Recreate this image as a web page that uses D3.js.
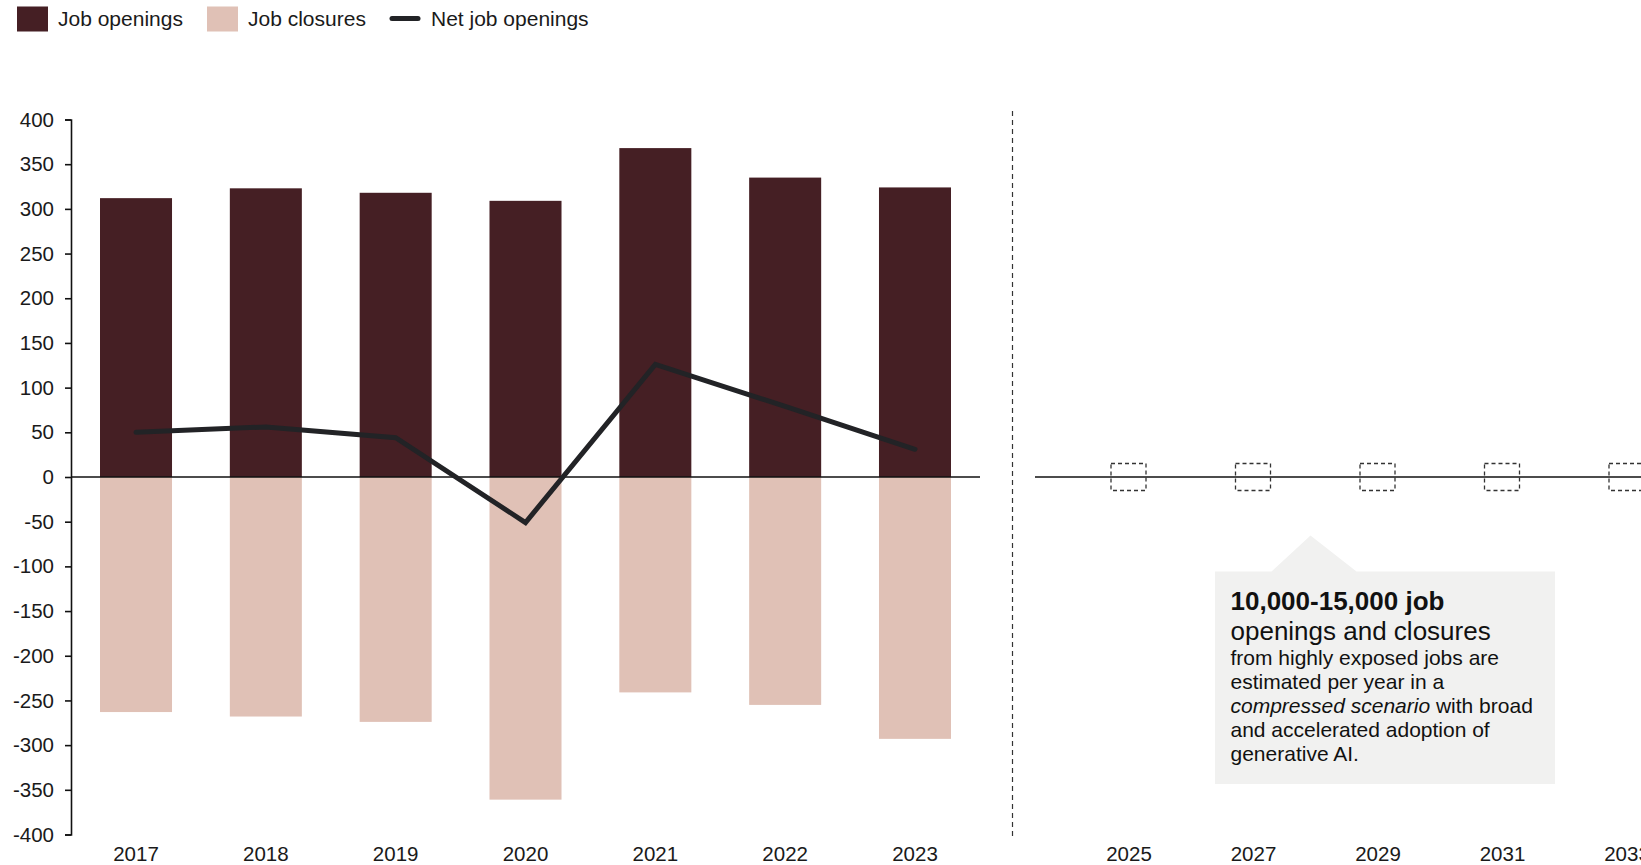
<!DOCTYPE html>
<html>
<head>
<meta charset="utf-8">
<script src="https://cdn.jsdelivr.net/npm/d3@7"></script>
<style>
  html, body { margin: 0; padding: 0; background: #fff; }
  svg { display: block; font-family: "Liberation Sans", Arial, sans-serif; }
</style>
</head>
<body>
<svg id="chart" width="1641" height="865"></svg>
<script>
// Historical years (thousands of jobs)
const years = ["2017", "2018", "2019", "2020", "2021", "2022", "2023"];
const openings = [312, 323, 318, 309, 368, 335, 324];
const closures = [-263, -268, -274, -361, -241, -255, -293];
const netOpenings = [50, 56, 44, -51, 126, 79, 31];
// Projection years
const futureYears = ["2025", "2027", "2029", "2031", "2033"];
const yTicks = [400, 350, 300, 250, 200, 150, 100, 50, 0, -50, -100, -150, -200, -250, -300, -350, -400];

const legendItems = [
  { label: "Job openings", type: "rect", color: "#451f24" },
  { label: "Job closures", type: "rect", color: "#e0c1b6" },
  { label: "Net job openings", type: "line", color: "#222326" }
];

const noteLines = [
  { parts: [{ t: "10,000-15,000 job", w: "bold" }], size: 26 },
  { parts: [{ t: "openings and closures" }], size: 26 },
  { parts: [{ t: "from highly exposed jobs are" }], size: 21 },
  { parts: [{ t: "estimated per year in a" }], size: 21 },
  { parts: [{ t: "compressed scenario", s: "italic" }, { t: " with broad" }], size: 21 },
  { parts: [{ t: "and accelerated adoption of" }], size: 21 },
  { parts: [{ t: "generative AI." }], size: 21 }
];

const svg = d3.select("#chart");
const textColor = "#1a1a1a";

// Scales
const y = d3.scaleLinear().domain([-400, 400]).range([834.5, 119.5]);
const x = d3.scaleBand().domain(years).range([71, 980])
  .paddingInner(0.4453).paddingOuter(0.2234);
const xf = d3.scalePoint().domain(futureYears).range([1128.5, 1626.5]);

// Legend
const legendX = [17, 207, 390];
const legend = svg.append("g");
legendItems.forEach((d, i) => {
  const g = legend.append("g").attr("transform", `translate(${legendX[i]},0)`);
  if (d.type === "rect") {
    g.append("rect").attr("x", 0).attr("y", 6.5).attr("width", 31).attr("height", 25).attr("fill", d.color);
  } else {
    g.append("line").attr("x1", 2).attr("x2", 28).attr("y1", 18.5).attr("y2", 18.5)
      .attr("stroke", d.color).attr("stroke-width", 5).attr("stroke-linecap", "round");
  }
  g.append("text").attr("x", 41).attr("y", 26).attr("font-size", 21).attr("fill", textColor).text(d.label);
});

// Bars: openings (positive) and closures (negative)
svg.append("g").selectAll("rect").data(years).join("rect")
  .attr("x", d => x(d))
  .attr("width", x.bandwidth())
  .attr("y", (d, i) => y(openings[i]))
  .attr("height", (d, i) => y(0) - y(openings[i]))
  .attr("fill", "#451f24");

svg.append("g").selectAll("rect").data(years).join("rect")
  .attr("x", d => x(d))
  .attr("width", x.bandwidth())
  .attr("y", y(0))
  .attr("height", (d, i) => y(closures[i]) - y(0))
  .attr("fill", "#e0c1b6");

// Y axis
const yAxis = d3.axisLeft(y).tickValues(yTicks).tickSize(6).tickPadding(11).tickFormat(d3.format("d"));
const ya = svg.append("g").attr("transform", "translate(71,0)").call(yAxis);
ya.select(".domain").attr("stroke", "#111").attr("stroke-width", 1.6);
ya.selectAll(".tick line").attr("stroke", "#111").attr("stroke-width", 1.6);
ya.selectAll(".tick text").attr("font-size", 20.5).attr("fill", textColor)
  .attr("font-family", "Liberation Sans, Arial, sans-serif")
  .text(d => d < 0 ? "-" + Math.abs(d) : d);

// Zero line (left panel)
svg.append("line").attr("x1", 71).attr("x2", 980).attr("y1", y(0)).attr("y2", y(0))
  .attr("stroke", "#111").attr("stroke-width", 1.6);

// Net line
const line = d3.line().x((d, i) => x(years[i]) + x.bandwidth() / 2).y(d => y(d));
svg.append("path").datum(netOpenings).attr("d", line)
  .attr("fill", "none").attr("stroke", "#222326").attr("stroke-width", 5)
  .attr("stroke-linecap", "round").attr("stroke-linejoin", "miter");

// X axis labels (left)
const xAxis = d3.axisBottom(x).tickSize(0).tickPadding(0);
const xa = svg.append("g").attr("transform", "translate(0,846)").call(xAxis);
xa.select(".domain").remove();
xa.selectAll(".tick text").attr("font-size", 20.5).attr("fill", textColor)
  .attr("font-family", "Liberation Sans, Arial, sans-serif");

// Separator
svg.append("line").attr("x1", 1012.5).attr("x2", 1012.5).attr("y1", 111).attr("y2", 840)
  .attr("stroke", "#333").attr("stroke-width", 1.2).attr("stroke-dasharray", "5,4");

// Right panel zero line
svg.append("line").attr("x1", 1035).attr("x2", 1641).attr("y1", y(0)).attr("y2", y(0))
  .attr("stroke", "#111").attr("stroke-width", 1.6);

// Placeholder boxes for projection years
svg.append("g").selectAll("rect").data(futureYears).join("rect")
  .attr("x", d => xf(d) - 17.5).attr("y", y(0) - 13.5)
  .attr("width", 35).attr("height", 27)
  .attr("fill", "none").attr("stroke", "#333").attr("stroke-width", 1.3)
  .attr("stroke-dasharray", "4,3");

const xfAxis = d3.axisBottom(xf).tickSize(0).tickPadding(0);
const xfa = svg.append("g").attr("transform", "translate(0,846)").call(xfAxis);
xfa.select(".domain").remove();
xfa.selectAll(".tick text").attr("font-size", 20.5).attr("fill", textColor)
  .attr("font-family", "Liberation Sans, Arial, sans-serif");

// Annotation callout
const note = svg.append("g");
note.append("path")
  .attr("d", "M1215,571.5 L1271.5,571.5 L1310.5,535.5 L1356.5,571.5 L1555,571.5 L1555,784 L1215,784 Z")
  .attr("fill", "#f1f1f0");
const baselines = [610, 640, 664.5, 688.5, 712.5, 737, 761];
noteLines.forEach((ln, i) => {
  const t = note.append("text").attr("x", 1230.5).attr("y", baselines[i])
    .attr("font-size", ln.size).attr("fill", "#111");
  ln.parts.forEach(p => {
    t.append("tspan").attr("font-weight", p.w || "normal").attr("font-style", p.s || "normal").text(p.t);
  });
});
</script>
</body>
</html>
